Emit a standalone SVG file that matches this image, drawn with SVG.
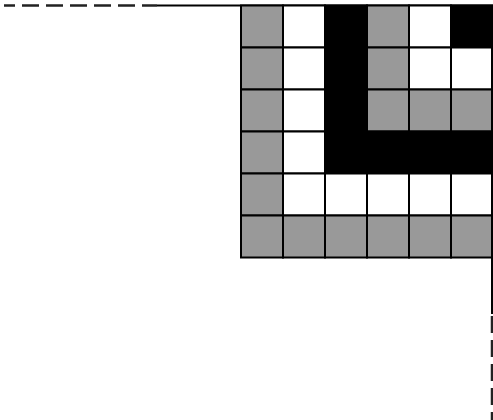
<svg xmlns="http://www.w3.org/2000/svg" width="493" height="420" viewBox="0 0 493 420">
<style>
.c{stroke:#000;stroke-width:2}
.g{fill:#999}
.w{fill:#fff}
.b{fill:#000}
.ln{stroke:#000;stroke-width:2;fill:none}
.dash{stroke:#222;stroke-width:2.5;fill:none;stroke-dasharray:17 7}
</style>
<rect width="493" height="420" fill="#fff"/>
<g id="connectors">
<line class="dash" x1="4" y1="5.5" x2="157" y2="5.5" stroke-dashoffset="6"/>
<line class="ln" x1="157" y1="5.5" x2="493" y2="5.5"/>
<line class="ln" x1="492" y1="258" x2="492" y2="314"/>
<line class="dash" x1="492" y1="316" x2="492" y2="420"/>
</g>
<g id="grid">
<g id="row0">
<rect class="c g" x="241" y="5.5" width="42" height="42"/>
<rect class="c w" x="283" y="5.5" width="42" height="42"/>
<rect class="c b" x="325" y="5.5" width="42" height="42"/>
<rect class="c g" x="367" y="5.5" width="42" height="42"/>
<rect class="c w" x="409" y="5.5" width="42" height="42"/>
<rect class="c b" x="451" y="5.5" width="41" height="42"/>
</g>
<g id="row1">
<rect class="c g" x="241" y="47.5" width="42" height="42"/>
<rect class="c w" x="283" y="47.5" width="42" height="42"/>
<rect class="c b" x="325" y="47.5" width="42" height="42"/>
<rect class="c g" x="367" y="47.5" width="42" height="42"/>
<rect class="c w" x="409" y="47.5" width="42" height="42"/>
<rect class="c w" x="451" y="47.5" width="41" height="42"/>
</g>
<g id="row2">
<rect class="c g" x="241" y="89.5" width="42" height="42"/>
<rect class="c w" x="283" y="89.5" width="42" height="42"/>
<rect class="c b" x="325" y="89.5" width="42" height="42"/>
<rect class="c g" x="367" y="89.5" width="42" height="42"/>
<rect class="c g" x="409" y="89.5" width="42" height="42"/>
<rect class="c g" x="451" y="89.5" width="41" height="42"/>
</g>
<g id="row3">
<rect class="c g" x="241" y="131.5" width="42" height="42"/>
<rect class="c w" x="283" y="131.5" width="42" height="42"/>
<rect class="c b" x="325" y="131.5" width="42" height="42"/>
<rect class="c b" x="367" y="131.5" width="42" height="42"/>
<rect class="c b" x="409" y="131.5" width="42" height="42"/>
<rect class="c b" x="451" y="131.5" width="41" height="42"/>
</g>
<g id="row4">
<rect class="c g" x="241" y="173.5" width="42" height="42"/>
<rect class="c w" x="283" y="173.5" width="42" height="42"/>
<rect class="c w" x="325" y="173.5" width="42" height="42"/>
<rect class="c w" x="367" y="173.5" width="42" height="42"/>
<rect class="c w" x="409" y="173.5" width="42" height="42"/>
<rect class="c w" x="451" y="173.5" width="41" height="42"/>
</g>
<g id="row5">
<rect class="c g" x="241" y="215.5" width="42" height="42"/>
<rect class="c g" x="283" y="215.5" width="42" height="42"/>
<rect class="c g" x="325" y="215.5" width="42" height="42"/>
<rect class="c g" x="367" y="215.5" width="42" height="42"/>
<rect class="c g" x="409" y="215.5" width="42" height="42"/>
<rect class="c g" x="451" y="215.5" width="41" height="42"/>
</g>
</g>
</svg>
